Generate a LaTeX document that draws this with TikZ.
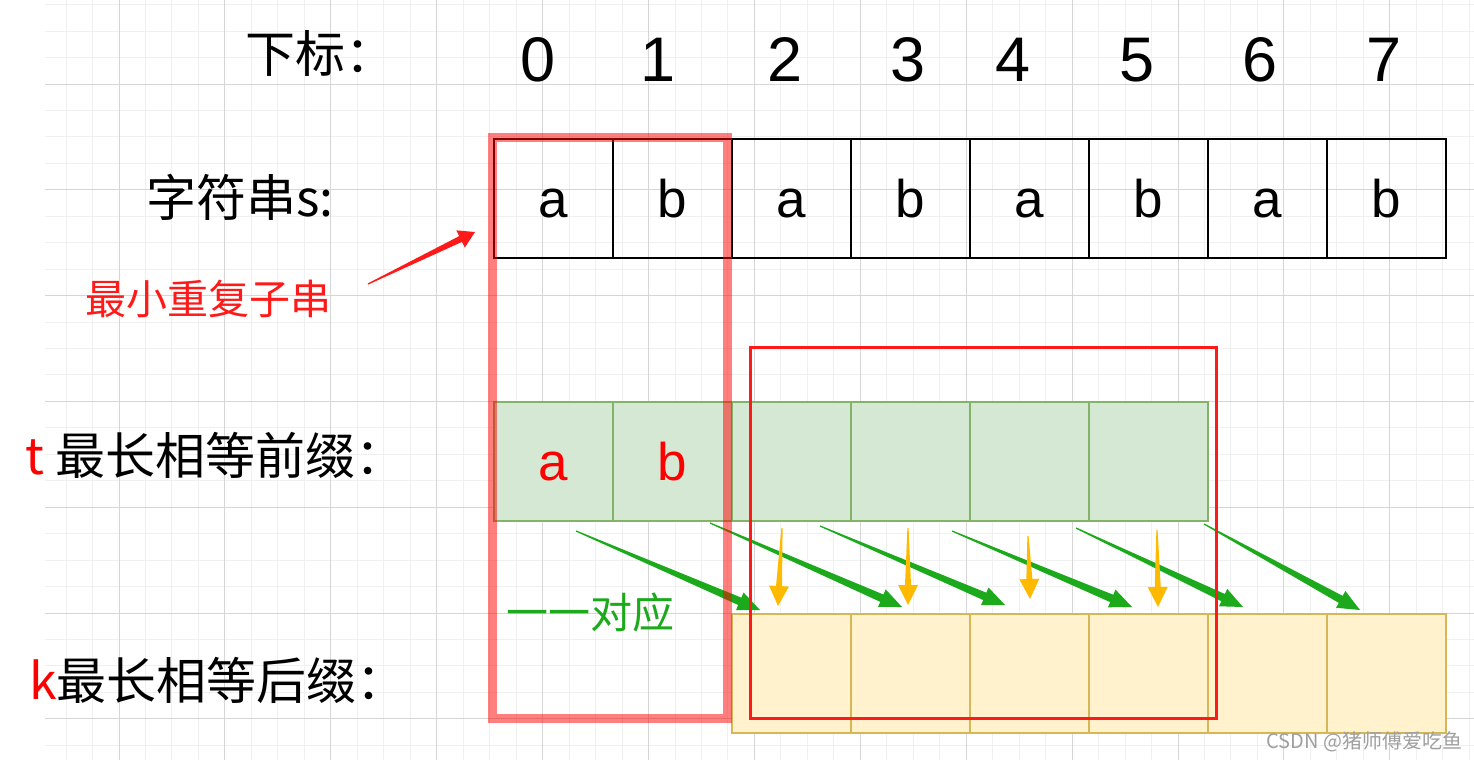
\documentclass[tikz,border=0pt]{standalone}
\usepackage{fontspec}
\setmainfont{Liberation Sans}
\newfontfamily\cjk{Noto Sans CJK SC}
\usetikzlibrary{calc}

\definecolor{gridmajor}{HTML}{D6D6D6}
\definecolor{gridminor}{HTML}{F0F0F0}
\definecolor{prefill}{HTML}{D5E8D4}
\definecolor{predraw}{HTML}{82B366}
\definecolor{sufill}{HTML}{FFF2CC}
\definecolor{sudraw}{HTML}{D6B656}
\definecolor{arrgreen}{HTML}{1CAA1C}
\definecolor{arryellow}{HTML}{FFBA00}
\definecolor{mred}{HTML}{FF1A1A}

% tapered block arrow: style, from, to, shaft half width, head length, head half width
\newcommand{\blockarrow}[6]{%
  \coordinate (hb) at ($(#3)!#5!(#2)$);
  \fill[#1] ($(#2)!0.3pt!90:(#3)$) -- ($(hb)!#4!90:(#3)$) -- ($(hb)!#6!90:(#3)$)
    -- (#3) -- ($(hb)!#6!-90:(#3)$) -- ($(hb)!#4!-90:(#3)$) -- ($(#2)!0.3pt!-90:(#3)$) -- cycle;
}

\begin{document}
\begin{tikzpicture}[x=0.5pt, y=-0.5pt,
    scell/.style={draw=black, line width=1pt, minimum size=59.5pt, inner sep=0pt, outer sep=0pt,
      font=\fontsize{26.5}{30}\selectfont, text height=19pt, text depth=0pt},
    pcell/.style={scell, draw=predraw, fill=prefill, line width=1.2pt, text=red},
    kcell/.style={scell, draw=sudraw, fill=sufill, line width=1.2pt},
    idx/.style={font=\fontsize{31.5}{36}\selectfont},
    lbl/.style={anchor=west, inner sep=0pt, font=\cjk\fontsize{25}{29}\selectfont},
    minorline/.style={gridminor, line width=0.5pt},
    majorline/.style={gridmajor, line width=0.5pt}
]
\useasboundingbox[fill=white] (0,0) rectangle (1474,760);

% background grid
\begin{scope}
\clip (45,0) rectangle (1474,760);
\foreach \i in {0,...,54} \draw[minorline] ({39.6+26.475*\i},0) -- ++(0,760);
\foreach \i in {0,...,28} \draw[minorline] (0,{4.65+26.45*\i}) -- ++(1474,0);
\foreach \i in {0,...,12} \draw[majorline] ({119+105.9*\i},0) -- ++(0,760);
\foreach \i in {1,...,7} \draw[majorline] (0,{-21.8+105.8*\i}) -- ++(1474,0);
\end{scope}

% indices
\foreach \n/\x in {0/538,1/658,2/785,3/908,4/1013,5/1137,6/1260,7/1384}
  \node[idx] (i\n) at (\x,60) {\n};

% string s, prefix t, suffix k
\foreach \c [count=\i from 0] in {a,b,a,b,a,b,a,b}
  \node[scell] (s\i) at ({553.5+119*\i},198) {\c};
\foreach \c [count=\i from 0] in {a,b,{},{},{},{}}
  \node[pcell] (t\i) at ({553.5+119*\i},461.5) {\c};
\foreach \i in {0,...,5}
  \node[kcell] (k\i) at ({791.5+119*\i},673.5) {};

% row labels
\node[lbl] (lidx) at (245,53) {下标：};
\node[lbl] (ls) at (146,197) {字符串s:};
\node[lbl] (lt) at (25,455) {{\color{red}t} 最长相等前缀：};
\node[lbl] (lk) at (29,680) {{\color{red}k}最长相等后缀：};
\node[lbl, text=mred, font=\cjk\fontsize{20.5}{24}\selectfont] (lmin) at (85,299) {最小重复子串};
\node[lbl, text=arrgreen, font=\cjk\fontsize{21}{24}\selectfont] (lmap) at (506,613) {一一对应};
\node[lbl, text=gray!75, font=\cjk\fontsize{10}{12}\selectfont] (wm) at (1266,742) {CSDN @猪师傅爱吃鱼};

% arrows
\coordinate (r0) at (368,284); \coordinate (r1) at (475,232);
\blockarrow{mred}{r0}{r1}{1.6pt}{8pt}{4.8pt}
\foreach \a/\b/\c/\d [count=\j] in {576/531/760/610, 710/523/902/607, 820/526/1005/605,
    952/531/1132/607, 1076/528/1243/607, 1204/524/1360/610}{
  \coordinate (g\j a) at (\a,\b); \coordinate (g\j b) at (\c,\d);
  \blockarrow{arrgreen}{g\j a}{g\j b}{2pt}{11pt}{4.8pt}
}
\foreach \a/\b/\c/\d [count=\j] in {782/528/778/606, 908/528/908/605, 1028/536/1030/599, 1157/530/1158/607}{
  \coordinate (y\j a) at (\a,\b); \coordinate (y\j b) at (\c,\d);
  \blockarrow{arryellow}{y\j a}{y\j b}{1.5pt}{10pt}{5pt}
}

% boxes
\draw[red, draw opacity=0.5, line width=4.5pt] (492,137) rectangle (727,718);
\draw[mred, line width=1.5pt] (750,347) rectangle (1216,718);
\end{tikzpicture}
\end{document}
